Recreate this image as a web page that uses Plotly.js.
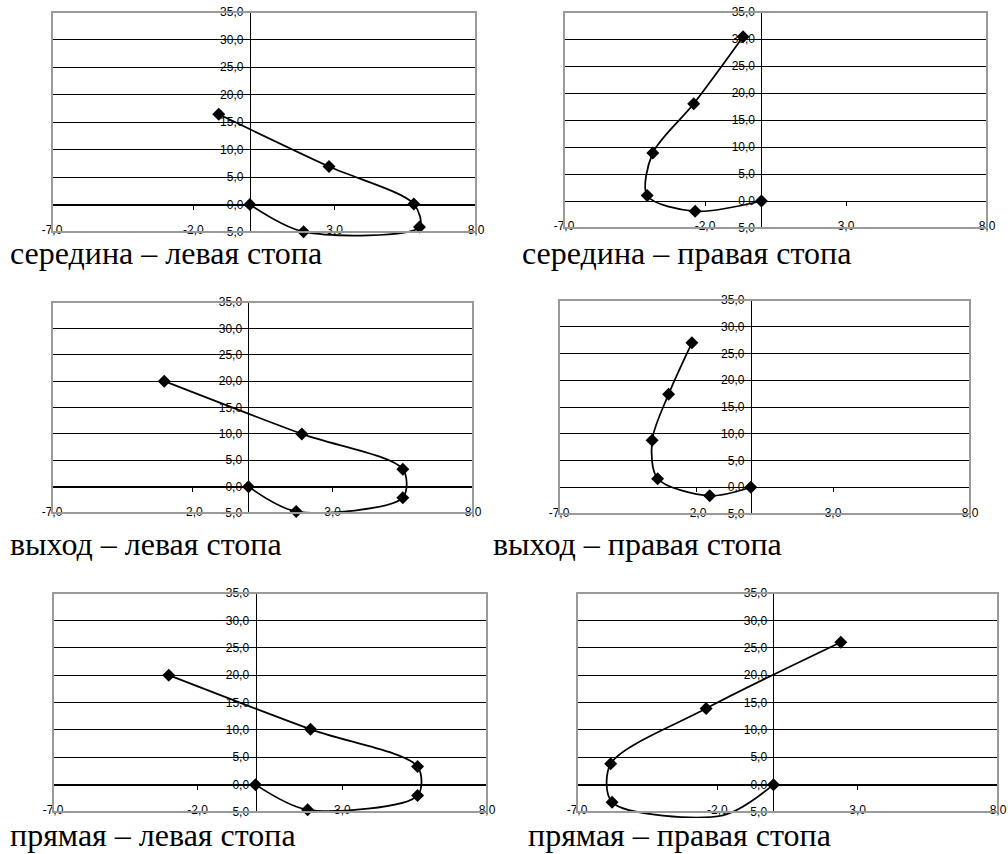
<!DOCTYPE html>
<html>
<head>
<meta charset="utf-8">
<script src="https://cdn.plot.ly/plotly-3.0.1.min.js"></script>
<style>
  html, body { margin: 0; padding: 0; background: #ffffff; }
  #chart { width: 1008px; height: 854px; }
</style>
</head>
<body>
<div id="chart"></div>
<script>
// ---- Data ----
const captions = [
  'середина – левая стопа',
  'середина – правая стопа',
  'выход – левая стопа',
  'выход – правая стопа',
  'прямая – левая стопа',
  'прямая – правая стопа'
];

const midLeftX = [0, 1.9, 6.0, 5.8, 2.8, -1.1];
const midLeftY = [0, -4.95, -4.1, 0.1, 6.9, 16.4];

const midRightX = [0, -2.35, -4.05, -3.85, -2.4, -0.65];
const midRightY = [0, -1.9, 1.0, 8.9, 18.0, 30.4];

const exitLeftX = [0, 1.7, 5.5, 5.5, 1.9, -3.0];
const exitLeftY = [0, -4.7, -2.1, 3.3, 10.0, 20.0];

const exitRightX = [0, -1.5, -3.4, -3.6, -3.0, -2.15];
const exitRightY = [0, -1.6, 1.6, 8.8, 17.4, 27.0];

const straightLeftX = [0, 1.8, 5.6, 5.6, 1.9, -3.0];
const straightLeftY = [0, -4.6, -2.0, 3.3, 10.1, 20.0];

const straightRightX = [0, -1.8, -5.75, -5.8, -2.4, 2.4];
const straightRightY = [0, -5.6, -3.2, 3.8, 13.9, 26.0];

const xTickVals = [-7, -2, 3, 8];
const xTickText = ['-7,0', '-2,0', '3,0', '8,0'];
const yTickVals = [-5, 0, 5, 10, 15, 20, 25, 30, 35];
const yTickText = ['-5,0', '0,0', '5,0', '10,0', '15,0', '20,0', '25,0', '30,0', '35,0'];

const seriesX = [midLeftX, midRightX, exitLeftX, exitRightX, straightLeftX, straightRightX];
const seriesY = [midLeftY, midRightY, exitLeftY, exitRightY, straightLeftY, straightRightY];

// ---- Layout geometry (pixels in the 1008x854 page) ----
const W = 1008, H = 854;
const boxes = [
  [52, 12, 476, 232],
  [564, 12, 987, 228],
  [52, 302, 473, 513],
  [559, 300, 970, 514],
  [53, 593, 487, 812],
  [577, 593, 998, 812]
];
const captionPos = [
  [8, 264], [520, 264],
  [8, 555], [491, 555],
  [8, 846], [526, 846]
];
const X_MIN = -7, X_MAX = 8, Y_MIN = -5, Y_MAX = 35;
const capFont = 32;
const EXT = 6; // extra pixels below the plot area where the curve may run (as in the reference)

const tickFont = { family: 'Liberation Sans, Arial, sans-serif', size: 12, color: '#000' };

const markerTraces = [];
const lineTraces = [];
const layout = {
  width: W, height: H,
  margin: { l: 0, r: 0, t: 0, b: 0 },
  paper_bgcolor: '#ffffff',
  plot_bgcolor: 'rgba(0,0,0,0)',
  showlegend: false,
  shapes: [],
  annotations: []
};

for (let i = 0; i < 6; i++) {
  const n = i === 0 ? '' : String(i + 1);
  const m = String(i + 7); // overlay axes for the curve
  const [x0, y0, x1, y1] = boxes[i];
  const dx = [x0 / W, x1 / W];
  const dy = [1 - y1 / H, 1 - y0 / H];
  const yAxisPos = dx[0] + (0 - X_MIN) / (X_MAX - X_MIN) * (dx[1] - dx[0]);
  const xAxisPos = dy[0] + (0 - Y_MIN) / (Y_MAX - Y_MIN) * (dy[1] - dy[0]);

  // extended overlay with same scale
  const pxPerY = (y1 - y0) / (Y_MAX - Y_MIN);
  const dyExt = [1 - (y1 + EXT) / H, 1 - y0 / H];
  const yMinExt = Y_MIN - EXT / pxPerY;

  markerTraces.push({
    type: 'scatter',
    mode: 'markers',
    x: seriesX[i],
    y: seriesY[i],
    xaxis: 'x' + n,
    yaxis: 'y' + n,
    cliponaxis: false,
    marker: {
      symbol: 'diamond', size: 10, color: '#000',
      opacity: seriesY[i].map(v => (v < Y_MIN || v > Y_MAX) ? 0 : 1)
    },
    hoverinfo: 'x+y'
  });

  lineTraces.push({
    type: 'scatter',
    mode: 'lines',
    x: seriesX[i],
    y: seriesY[i],
    xaxis: 'x' + m,
    yaxis: 'y' + m,
    line: { color: '#000', width: 1.75, shape: 'spline', smoothing: 0.85 },
    hoverinfo: 'skip'
  });

  layout['xaxis' + n] = {
    domain: dx,
    anchor: 'free',
    position: xAxisPos,
    range: [X_MIN, X_MAX],
    tickmode: 'array',
    tickvals: xTickVals,
    ticktext: xTickText,
    ticks: 'outside', ticklen: 4, tickcolor: '#000', tickwidth: 1,
    showline: true, linecolor: '#000', linewidth: 1,
    showgrid: false, zeroline: false,
    ticklabelstandoff: 10,
    tickfont: tickFont,
    fixedrange: true
  };
  layout['yaxis' + n] = {
    domain: dy,
    anchor: 'free',
    position: yAxisPos,
    range: [Y_MIN, Y_MAX],
    tickmode: 'array',
    tickvals: yTickVals,
    ticktext: yTickText,
    ticks: 'outside', ticklen: 4, tickcolor: '#000', tickwidth: 1,
    showline: true, linecolor: '#000', linewidth: 1,
    showgrid: true, gridcolor: '#000', gridwidth: 1,
    zeroline: false,
    tickfont: tickFont,
    fixedrange: true
  };

  layout['xaxis' + m] = {
    domain: dx, anchor: 'y' + m, range: [X_MIN, X_MAX],
    visible: false, fixedrange: true
  };
  layout['yaxis' + m] = {
    domain: dyExt, anchor: 'x' + m, range: [yMinExt, Y_MAX],
    visible: false, fixedrange: true
  };

  layout.shapes.push({
    type: 'rect',
    xref: 'x' + n + ' domain', yref: 'y' + n + ' domain',
    x0: 0, x1: 1, y0: 0, y1: 1,
    line: { color: '#9a9a9a', width: 2 },
    fillcolor: 'rgba(0,0,0,0)',
    layer: 'above'
  });

  const [cx, cy] = captionPos[i];
  layout.annotations.push({
    xref: 'paper', yref: 'paper',
    x: cx / W, y: 1 - (cy - 0.35 * capFont) / H,
    xanchor: 'left', yanchor: 'middle',
    text: captions[i],
    showarrow: false,
    font: { family: 'Liberation Serif, Times New Roman, serif', size: capFont, color: '#000' }
  });
}

Plotly.newPlot('chart', markerTraces.concat(lineTraces), layout, { displayModeBar: false, staticPlot: true });
</script>
</body>
</html>
